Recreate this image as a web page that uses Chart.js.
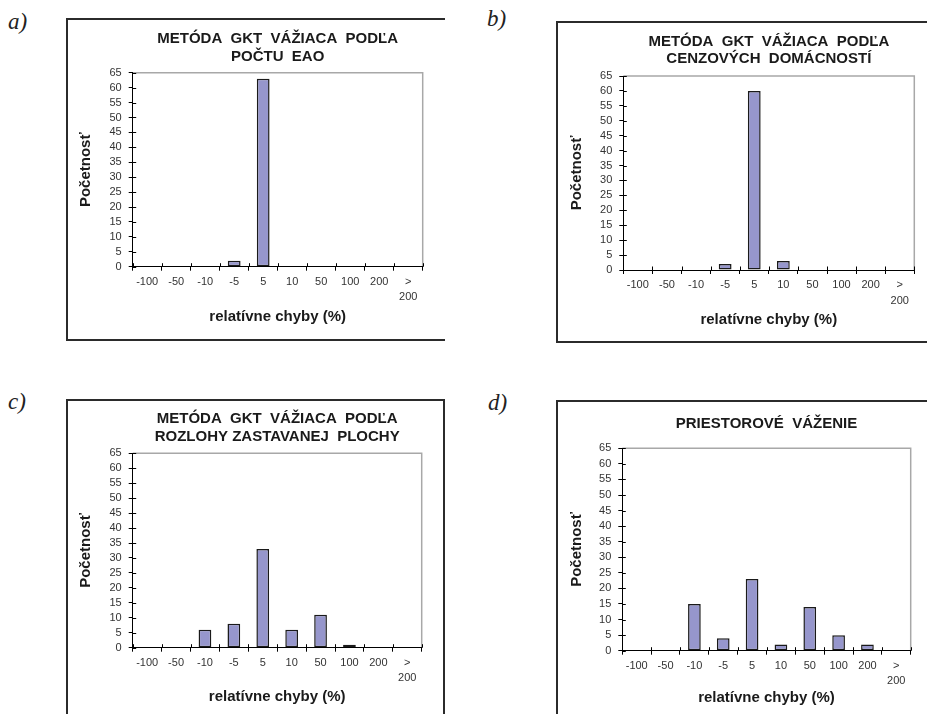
<!DOCTYPE html>
<html><head><meta charset="utf-8">
<script src="https://cdn.jsdelivr.net/npm/chart.js@4.4.1/dist/chart.umd.min.js"></script>
<style>
html,body{margin:0;padding:0;background:#fff}
body{width:927px;height:714px;overflow:hidden;position:relative}
.box{position:absolute;border:2px solid #2b2b2b;box-sizing:border-box}
.cv{position:absolute}
.lab{position:absolute;font-family:'Liberation Serif','DejaVu Serif',serif;font-style:italic;font-size:23px;line-height:23px;color:#222}
</style></head><body>

<div class="box" style="left:66px;top:18px;width:379px;height:323px;border-right:none"></div>
<div class="box" style="left:556px;top:21px;width:400px;height:322px"></div>
<div class="box" style="left:66px;top:399px;width:379px;height:400px"></div>
<div class="box" style="left:556px;top:400px;width:400px;height:400px"></div>

<div class="lab" style="left:8px;top:10px">a)</div>
<div class="lab" style="left:487px;top:7px">b)</div>
<div class="lab" style="left:8px;top:390px">c)</div>
<div class="lab" style="left:488px;top:391px">d)</div>

<div class="cv" style="left:67px;top:20px;width:378px;height:320px"><canvas id="ca"></canvas></div>
<div class="cv" style="left:558px;top:22px;width:369px;height:320px"><canvas id="cb"></canvas></div>
<div class="cv" style="left:67px;top:401px;width:377px;height:313px"><canvas id="cc"></canvas></div>
<div class="cv" style="left:558px;top:401px;width:369px;height:313px"><canvas id="cd"></canvas></div>

<script>
// ---- data ----
const categories = ['-100', '-50', '-10', '-5', '5', '10', '50', '100', '200', '> 200'];
const valuesA = [0, 0, 0, 2, 63, 0, 0, 0, 0, 0];
const valuesB = [0, 0, 0, 2, 60, 3, 0, 0, 0, 0];
const valuesC = [0, 0, 6, 8, 33, 6, 11, 1, 0, 0];
const valuesD = [0, 0, 15, 4, 23, 2, 14, 5, 2, 0];
const titleA = ['METÓDA  GKT  VÁŽIACA  PODĽA', 'POČTU  EAO'];
const titleB = ['METÓDA  GKT  VÁŽIACA  PODĽA', 'CENZOVÝCH  DOMÁCNOSTÍ'];
const titleC = ['METÓDA  GKT  VÁŽIACA  PODĽA', 'ROZLOHY ZASTAVANEJ  PLOCHY'];
const titleD = ['PRIESTOROVÉ  VÁŽENIE'];
const yTicksMax = 65;
const yTicksStep = 5;
const xAxisTitle = 'relatívne chyby (%)';
const yAxisTitle = 'Početnosť';

Chart.defaults.font.family = "'Liberation Sans', Arial, sans-serif";
Chart.defaults.color = '#333';

const labels = categories.map(c => c.startsWith('>') ? ['>', c.slice(1).trim()] : c);

const excelAxes = {
  id: 'excelAxes',
  beforeDraw(chart) {
    const {ctx, chartArea: a} = chart;
    ctx.save();
    ctx.strokeStyle = '#a8a8a8';
    ctx.lineWidth = 1.5;
    ctx.beginPath();
    ctx.moveTo(a.left, a.top);
    ctx.lineTo(a.right, a.top);
    ctx.lineTo(a.right, a.bottom);
    ctx.stroke();
    ctx.restore();
  },
  afterDraw(chart) {
    const {ctx, chartArea: a, scales: {x, y}} = chart;
    ctx.save();
    ctx.strokeStyle = '#000';
    ctx.lineWidth = 1;
    ctx.beginPath();
    y.ticks.forEach((t, i) => {
      const py = Math.round(y.getPixelForTick(i)) + 0.5;
      ctx.moveTo(a.left, py); ctx.lineTo(a.left + 3.5, py);
    });
    const n = x.ticks.length, w = (x.right - x.left) / n;
    for (let i = 0; i <= n; i++) {
      const px = Math.round(x.left + i * w) + 0.5;
      ctx.moveTo(px, a.bottom); ctx.lineTo(px, a.bottom - 3.5);
    }
    ctx.stroke();
    ctx.restore();
  }
};

function makeChart(id, data, title, p) {
  new Chart(document.getElementById(id), {
    type: 'bar',
    data: {
      labels: labels,
      datasets: [{
        data: data,
        backgroundColor: '#9696cc',
        borderColor: '#1a1a1a',
        borderWidth: 1.5,
        borderSkipped: false,
        categoryPercentage: 1,
        barPercentage: 0.44
      }]
    },
    options: {
      responsive: true,
      maintainAspectRatio: false,
      animation: false,
      layout: {padding: {left: 0, top: 0, bottom: 0, right: p.padRight}},
      plugins: {
        legend: {display: false},
        tooltip: {enabled: false},
        title: {
          display: true,
          text: title,
          fullSize: false,
          color: '#1a1a1a',
          font: {size: 15, weight: 'bold', lineHeight: 17.5 / 15},
          padding: p.titlePad
        }
      },
      scales: {
        x: {
          afterFit(s) { s.height = p.xHeight; },
          border: {display: true, color: '#000', width: 1},
          grid: {display: true, drawOnChartArea: false, drawTicks: true, tickLength: 4, color: '#000', offset: true},
          ticks: {autoSkip: false, maxRotation: 0, minRotation: 0, padding: 3.5, color: '#333',
                  font: {size: 11, lineHeight: 1.4}},
          title: {display: true, text: xAxisTitle, color: '#1a1a1a',
                  font: {size: 15, weight: 'bold', lineHeight: 1.2},
                  padding: {top: 0, bottom: p.xTitlePb}}
        },
        y: {
          min: 0, max: yTicksMax,
          afterFit(s) { s.width = p.yWidth; },
          border: {display: true, color: '#000', width: 1},
          grid: {display: true, drawOnChartArea: false, drawTicks: true, tickLength: 4, color: '#000'},
          ticks: {stepSize: yTicksStep, autoSkip: false, padding: 7, color: '#333', font: {size: 11}},
          title: {display: true, text: yAxisTitle, color: '#1a1a1a',
                  font: {size: 15, weight: 'bold', lineHeight: 1.2},
                  padding: {top: p.yTitlePt, bottom: 0}}
        }
      }
    },
    plugins: [excelAxes]
  });
}

makeChart('ca', valuesA, titleA, {yWidth: 65.7, padRight: 22.3, xHeight: 73.3, titlePad: {top: 10.5, bottom: 7.2}, xTitlePb: 14.3, yTitlePt: 10});
makeChart('cb', valuesB, titleB, {yWidth: 65.3, padRight: 12.7, xHeight: 72, titlePad: {top: 10.9, bottom: 8.1}, xTitlePb: 13, yTitlePt: 10});
makeChart('cc', valuesC, titleC, {yWidth: 65.7, padRight: 22.3, xHeight: 66.3, titlePad: {top: 9.5, bottom: 7.8}, xTitlePb: 8.3, yTitlePt: 10});
makeChart('cd', valuesD, titleD, {yWidth: 64.3, padRight: 16.3, xHeight: 63.3, titlePad: {top: 14.2, bottom: 15.6}, xTitlePb: 6.7, yTitlePt: 10.3});
</script>
</body></html>
